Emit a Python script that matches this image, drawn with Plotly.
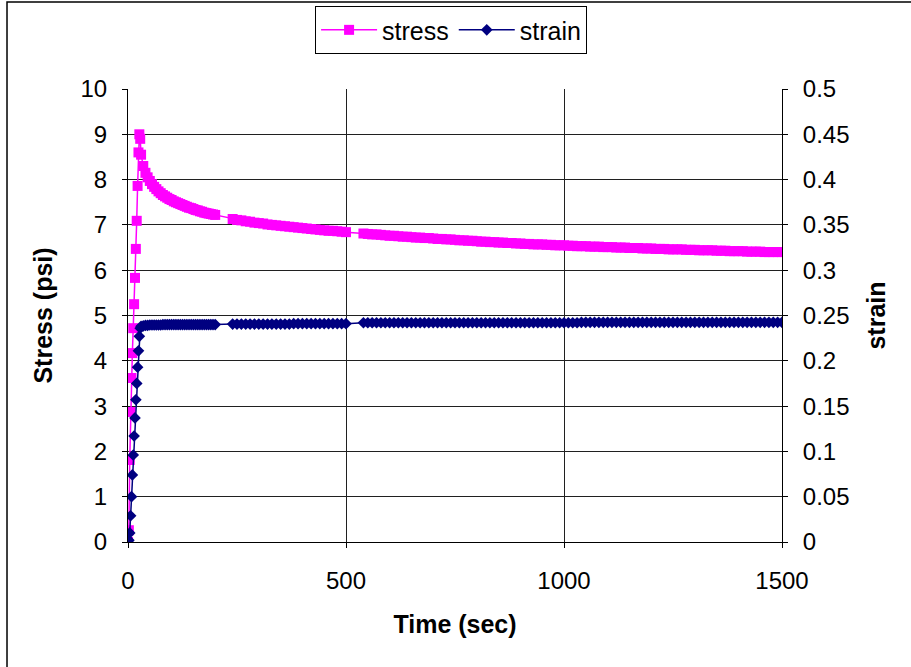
import plotly.graph_objects as go

# ---------------- data ----------------
time_sec = [
    0, 2, 4, 6, 8, 10, 12, 14, 16, 18, 20, 22, 24, 26, 28, 30,
    35, 40, 45, 50, 55, 60, 65, 70, 75, 80, 85, 90, 95, 100, 105, 110, 115,
    120, 125, 130, 135, 140, 145, 150, 155, 160, 165, 170, 175, 180, 185, 190, 195, 200,
    240, 250, 260, 270, 280, 290, 300, 310, 320, 330, 340, 350, 360, 370,
    380, 390, 400, 410, 420, 430, 440, 450, 460, 470, 480, 490, 500,
    540, 550, 560, 570, 580, 590, 600, 610, 620, 630,
    640, 650, 660, 670, 680, 690, 700, 710, 720, 730,
    740, 750, 760, 770, 780, 790, 800, 810, 820, 830,
    840, 850, 860, 870, 880, 890, 900, 910, 920, 930,
    940, 950, 960, 970, 980, 990, 1000, 1010, 1020, 1030,
    1040, 1050, 1060, 1070, 1080, 1090, 1100, 1110, 1120, 1130,
    1140, 1150, 1160, 1170, 1180, 1190, 1200, 1210, 1220, 1230,
    1240, 1250, 1260, 1270, 1280, 1290, 1300, 1310, 1320, 1330,
    1340, 1350, 1360, 1370, 1380, 1390, 1400, 1410, 1420, 1430,
    1440, 1450, 1460, 1470, 1480, 1490, 1500,
]

stress_psi = [
    0.0, 0.26, 1.81, 2.87, 3.62, 4.17, 4.72, 5.25, 5.83, 6.47, 7.09, 7.86, 8.60, 9.00, 8.90, 8.55,
    8.30, 8.15, 8.05, 7.97, 7.90, 7.84, 7.79, 7.74, 7.70, 7.66, 7.63, 7.60, 7.57, 7.55, 7.52, 7.50, 7.48,
    7.46, 7.44, 7.42, 7.40, 7.38, 7.37, 7.35, 7.33, 7.32, 7.30, 7.29, 7.27, 7.26, 7.25, 7.24, 7.23, 7.22,
    7.13, 7.11, 7.10, 7.08, 7.07, 7.05, 7.04, 7.03, 7.01, 7.00, 6.99, 6.98, 6.97, 6.96,
    6.95, 6.94, 6.93, 6.92, 6.91, 6.90, 6.89, 6.88, 6.87, 6.87, 6.86, 6.85, 6.84,
    6.81, 6.80, 6.79, 6.79, 6.78, 6.77, 6.76, 6.76, 6.75, 6.74,
    6.74, 6.73, 6.72, 6.72, 6.71, 6.71, 6.70, 6.69, 6.69, 6.68,
    6.68, 6.67, 6.66, 6.66, 6.65, 6.65, 6.64, 6.63, 6.63, 6.62,
    6.62, 6.61, 6.61, 6.60, 6.60, 6.59, 6.59, 6.58, 6.58, 6.57,
    6.57, 6.57, 6.56, 6.56, 6.55, 6.55, 6.55, 6.54, 6.54, 6.53,
    6.53, 6.53, 6.52, 6.52, 6.52, 6.51, 6.51, 6.51, 6.50, 6.50,
    6.50, 6.49, 6.49, 6.49, 6.48, 6.48, 6.48, 6.47, 6.47, 6.47,
    6.46, 6.46, 6.46, 6.46, 6.45, 6.45, 6.45, 6.44, 6.44, 6.44,
    6.44, 6.43, 6.43, 6.43, 6.42, 6.42, 6.42, 6.42, 6.41, 6.41,
    6.41, 6.41, 6.40, 6.40, 6.40, 6.40, 6.40,
]

strain = [
    0.0, 0.002, 0.010, 0.029, 0.050, 0.074, 0.096, 0.117, 0.137, 0.157, 0.175, 0.193, 0.211, 0.227, 0.236, 0.238,
    0.2385, 0.2390, 0.2390, 0.2395, 0.2395, 0.2395, 0.2395, 0.2395, 0.2395, 0.2400, 0.2400, 0.2400, 0.2400, 0.2400, 0.2400, 0.2400, 0.2400,
    0.2400, 0.2400, 0.2400, 0.2400, 0.2400, 0.2400, 0.2400, 0.2400, 0.2400, 0.2400, 0.2400, 0.2400, 0.2400, 0.2400, 0.2400, 0.2400, 0.2400,
    0.2405, 0.2405, 0.2405, 0.2405, 0.2405, 0.2405, 0.2405, 0.2405, 0.2405, 0.2405, 0.2405, 0.2405, 0.2405, 0.2405,
    0.2410, 0.2410, 0.2410, 0.2410, 0.2410, 0.2410, 0.2410, 0.2410, 0.2410, 0.2410, 0.2410, 0.2410, 0.2410,
    0.2420, 0.2420, 0.2420, 0.2420, 0.2420, 0.2420, 0.2420, 0.2420, 0.2420, 0.2420,
    0.2420, 0.2420, 0.2420, 0.2420, 0.2420, 0.2420, 0.2420, 0.2420, 0.2420, 0.2420,
    0.2420, 0.2420, 0.2420, 0.2420, 0.2420, 0.2420, 0.2420, 0.2420, 0.2420, 0.2420,
    0.2420, 0.2420, 0.2420, 0.2420, 0.2420, 0.2420, 0.2420, 0.2420, 0.2420, 0.2420,
    0.2420, 0.2420, 0.2420, 0.2420, 0.2420, 0.2420, 0.2420, 0.2420, 0.2420, 0.2420,
    0.2425, 0.2425, 0.2425, 0.2425, 0.2425, 0.2425, 0.2425, 0.2425, 0.2425, 0.2425,
    0.2425, 0.2425, 0.2425, 0.2425, 0.2425, 0.2425, 0.2425, 0.2425, 0.2425, 0.2425,
    0.2425, 0.2425, 0.2425, 0.2425, 0.2425, 0.2425, 0.2425, 0.2425, 0.2425, 0.2425,
    0.2425, 0.2425, 0.2425, 0.2425, 0.2425, 0.2425, 0.2425, 0.2425, 0.2425, 0.2425,
    0.2425, 0.2425, 0.2425, 0.2425, 0.2425, 0.2425, 0.2425,
]

x_ticks = [0, 500, 1000, 1500]
stress_ticks = [0, 1, 2, 3, 4, 5, 6, 7, 8, 9, 10]
strain_ticks = [0, 0.05, 0.1, 0.15, 0.2, 0.25, 0.3, 0.35, 0.4, 0.45, 0.5]
strain_tick_text = ["0", "0.05", "0.1", "0.15", "0.2", "0.25", "0.3", "0.35", "0.4", "0.45", "0.5"]

# ---------------- figure ----------------
FONT = "Liberation Sans, Arial, sans-serif"
TICK_SIZE = 24
TITLE_SIZE = 25

fig = go.Figure()
fig.add_trace(go.Scatter(
    x=time_sec, y=stress_psi, name="stress", mode="lines+markers",
    line=dict(color="#FF00FF", width=1.5),
    marker=dict(symbol="square", size=10, color="#FF00FF"),
    yaxis="y",
))
fig.add_trace(go.Scatter(
    x=time_sec, y=strain, name="strain", mode="lines+markers",
    line=dict(color="#000080", width=1.5),
    marker=dict(symbol="diamond", size=9, color="#000080"),
    yaxis="y2",
))

fig.update_layout(
    width=911, height=667,
    margin=dict(l=128, r=129, t=89, b=125, autoexpand=False),
    paper_bgcolor="white", plot_bgcolor="white",
    font=dict(family=FONT, size=TICK_SIZE, color="black"),
    showlegend=True,
    legend=dict(
        orientation="h", x=0.494, y=1.183, xanchor="center", yanchor="top",
        bordercolor="black", borderwidth=1, bgcolor="white",
        font=dict(family=FONT, size=25, color="black"),
        itemwidth=56, tracegroupgap=0,
    ),
    xaxis=dict(
        range=[0, 1500], tickvals=x_ticks, showgrid=True, gridcolor="#202020", gridwidth=1,
        showline=True, linecolor="black", linewidth=1, zeroline=False,
        ticks="outside", ticklen=5, tickcolor="black", ticklabelstandoff=12,
        tickfont=dict(size=TICK_SIZE),
        title=dict(text="<b>Time (sec)</b>", font=dict(size=TITLE_SIZE), standoff=22),
    ),
    yaxis=dict(
        range=[0, 10], tickvals=stress_ticks, showgrid=True, gridcolor="#202020", gridwidth=1,
        showline=True, linecolor="black", linewidth=1, zeroline=False,
        ticks="outside", ticklen=5, tickcolor="black", ticklabelstandoff=10,
        tickfont=dict(size=TICK_SIZE),
        title=dict(text="<b>Stress (psi)</b>", font=dict(size=TITLE_SIZE), standoff=20),
    ),
    yaxis2=dict(
        range=[0, 0.5], tickvals=strain_ticks, ticktext=strain_tick_text,
        overlaying="y", side="right", showgrid=False,
        showline=True, linecolor="black", linewidth=1, zeroline=False,
        ticks="outside", ticklen=5, tickcolor="black", ticklabelstandoff=10,
        tickfont=dict(size=TICK_SIZE),
        title=dict(text="<b>strain</b>", font=dict(size=TITLE_SIZE), standoff=18),
    ),
    shapes=[dict(
        type="rect", xref="paper", yref="paper",
        x0=-0.185, x1=1.25, y0=-0.35, y1=1.192,
        line=dict(color="black", width=1.5), fillcolor="rgba(0,0,0,0)", layer="below",
    )],
)

fig.write_html("out.html")
